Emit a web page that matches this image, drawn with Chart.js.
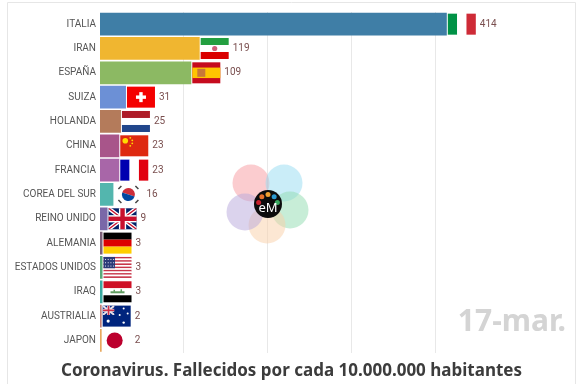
<!DOCTYPE html>
<html>
<head>
<meta charset="utf-8">
<style>
  html, body { margin: 0; padding: 0; background: #fff; overflow: hidden; }
  canvas { display: block; }
</style>
<script src="https://cdn.jsdelivr.net/npm/chart.js@4"></script>
</head>
<body>
<canvas id="chart" width="580" height="384"></canvas>
<script>
const categories = ['ITALIA', 'IRAN', 'ESPAÑA', 'SUIZA', 'HOLANDA', 'CHINA', 'FRANCIA', 'COREA DEL SUR',
  'REINO UNIDO', 'ALEMANIA', 'ESTADOS UNIDOS', 'IRAQ', 'AUSTRIALIA', 'JAPON'];
const values = [414, 119, 109, 31, 25, 23, 23, 16, 9, 3, 3, 3, 2, 2];
const barColors = ['#3f7ea6', '#f0b630', '#8cb963', '#6c90d6', '#b47b5b', '#a8558a', '#a866a8', '#53b6ae',
  '#7a68a8', '#7d6079', '#5aa97a', '#3aa9a0', '#c28078', '#e8a95f'];
const gridTicks = [100, 200, 300, 400];
const dateLabel = '17-mar.';
const titleText = 'Coronavirus. Fallecidos por cada 10.000.000 habitantes';

// flag painters, each one draws in a box of w x h from x,y
function stripesH(c, x, y, w, h, cols) {
  cols.forEach((col, i) => { c.fillStyle = col; c.fillRect(x, y + i * h / cols.length, w, h / cols.length); });
}
function stripesV(c, x, y, w, h, cols) {
  cols.forEach((col, i) => { c.fillStyle = col; c.fillRect(x + i * w / cols.length, y, w / cols.length, h); });
}
const flags = {
  ITALIA(c, x, y, w, h) { stripesV(c, x, y, w, h, ['#009246', '#fff', '#ce2b37']); },
  IRAN(c, x, y, w, h) {
    stripesH(c, x, y, w, h, ['#239f40', '#fff', '#da0000']);
    c.fillStyle = '#d0607a';
    c.beginPath(); c.arc(x + w / 2, y + h / 2, 2.6, 0, Math.PI * 2); c.fill();
  },
  'ESPAÑA'(c, x, y, w, h) {
    c.fillStyle = '#c60b1e'; c.fillRect(x, y, w, h);
    c.fillStyle = '#ffc400'; c.fillRect(x, y + h / 4, w, h / 2);
    c.fillStyle = '#c87838'; c.fillRect(x + 5, y + h / 2 - 4, 8, 8);
  },
  SUIZA(c, x, y, w, h) {
    c.fillStyle = '#f40000'; c.fillRect(x, y, w, h);
    c.fillStyle = '#fff';
    c.fillRect(x + w / 2 - 5, y + h / 2 - 1.7, 10, 3.4);
    c.fillRect(x + w / 2 - 1.7, y + h / 2 - 5, 3.4, 10);
  },
  HOLANDA(c, x, y, w, h) { stripesH(c, x, y, w, h, ['#ae1c28', '#fff', '#21468b']); },
  CHINA(c, x, y, w, h) {
    c.fillStyle = '#de2910'; c.fillRect(x, y, w, h);
    c.fillStyle = '#ffde00';
    c.beginPath(); c.arc(x + 5, y + 5.5, 2.8, 0, Math.PI * 2); c.fill();
    [[10, 2.5], [12, 5], [12, 8], [10, 10.5]].forEach(p => {
      c.beginPath(); c.arc(x + p[0], y + p[1], 0.9, 0, Math.PI * 2); c.fill();
    });
  },
  FRANCIA(c, x, y, w, h) { stripesV(c, x, y, w, h, ['#0000b0', '#fff', '#e1000f']); },
  'COREA DEL SUR'(c, x, y, w, h) {
    c.fillStyle = '#fff'; c.fillRect(x, y, w, h);
    const cx = x + w / 2, cy = y + h / 2;
    c.fillStyle = '#cd2e3a';
    c.beginPath(); c.arc(cx, cy, 6.5, Math.PI * 1.1, Math.PI * 2.1); c.fill();
    c.fillStyle = '#0047a0';
    c.beginPath(); c.arc(cx, cy, 6.5, Math.PI * 0.1, Math.PI * 1.1); c.fill();
    c.strokeStyle = '#444'; c.lineWidth = 1.5;
    [[-10, -5.5, -7, -8.5], [7, -8.5, 10, -5.5], [-10, 5.5, -7, 8.5], [7, 8.5, 10, 5.5]].forEach(p => {
      c.beginPath(); c.moveTo(cx + p[0], cy + p[1]); c.lineTo(cx + p[2], cy + p[3]); c.stroke();
    });
  },
  'REINO UNIDO'(c, x, y, w, h) {
    c.fillStyle = '#012169'; c.fillRect(x, y, w, h);
    c.save(); c.beginPath(); c.rect(x, y, w, h); c.clip();
    c.strokeStyle = '#fff'; c.lineWidth = 4;
    c.beginPath(); c.moveTo(x, y); c.lineTo(x + w, y + h); c.moveTo(x + w, y); c.lineTo(x, y + h); c.stroke();
    c.strokeStyle = '#c8102e'; c.lineWidth = 1.4;
    c.beginPath(); c.moveTo(x, y); c.lineTo(x + w, y + h); c.moveTo(x + w, y); c.lineTo(x, y + h); c.stroke();
    c.restore();
    c.fillStyle = '#fff';
    c.fillRect(x, y + h / 2 - 3.6, w, 7.2); c.fillRect(x + w / 2 - 3.6, y, 7.2, h);
    c.fillStyle = '#c8102e';
    c.fillRect(x, y + h / 2 - 2.2, w, 4.4); c.fillRect(x + w / 2 - 2.2, y, 4.4, h);
  },
  ALEMANIA(c, x, y, w, h) { stripesH(c, x, y, w, h, ['#000', '#dd0000', '#ffce00']); },
  'ESTADOS UNIDOS'(c, x, y, w, h) {
    for (let i = 0; i < 13; i++) {
      c.fillStyle = i % 2 ? '#fff' : '#c8364a';
      c.fillRect(x, y + i * h / 13, w, h / 13);
    }
    c.fillStyle = '#2c3a78'; c.fillRect(x, y, 11.5, h * 7 / 13);
    c.fillStyle = '#e8e8f0';
    for (let i = 0; i < 4; i++) for (let j = 0; j < 3; j++) {
      c.fillRect(x + 1.5 + i * 2.7, y + 2 + j * 3.3, 1, 1);
    }
  },
  IRAQ(c, x, y, w, h) {
    stripesH(c, x, y, w, h, ['#ce1126', '#fff', '#000']);
    c.fillStyle = '#5f9c60';
    c.fillRect(x + 7, y + h / 2 - 0.5, 14, 2);
    c.fillRect(x + 10, y + h / 2 - 2, 1.5, 2);
    c.fillRect(x + 17, y + h / 2 - 2.5, 1.5, 3);
  },
  AUSTRIALIA(c, x, y, w, h) {
    c.fillStyle = '#00247d'; c.fillRect(x, y, w, h);
    const fw = w * 0.42, fh = h * 0.45;
    c.save(); c.beginPath(); c.rect(x, y, fw, fh); c.clip();
    c.strokeStyle = '#e8e0e8'; c.lineWidth = 2;
    c.beginPath(); c.moveTo(x, y); c.lineTo(x + fw, y + fh); c.moveTo(x + fw, y); c.lineTo(x, y + fh); c.stroke();
    c.fillStyle = '#e8e0e8';
    c.fillRect(x, y + fh / 2 - 1.5, fw, 3); c.fillRect(x + fw / 2 - 1.5, y, 3, fh);
    c.fillStyle = '#cf3048';
    c.fillRect(x, y + fh / 2 - 0.8, fw, 1.6); c.fillRect(x + fw / 2 - 0.8, y, 1.6, fh);
    c.restore();
    c.fillStyle = '#fff';
    [[5.5, 15.5, 1.6], [21, 3, 1], [25, 8, 1], [17, 9.5, 1], [21, 17, 1.2]].forEach(p => {
      c.beginPath(); c.arc(x + p[0], y + p[1], p[2], 0, Math.PI * 2); c.fill();
    });
  },
  JAPON(c, x, y, w, h) {
    c.fillStyle = '#bc002d';
    c.beginPath(); c.arc(x + w / 2 - 2, y + h / 2, 8, 0, Math.PI * 2); c.fill();
  }
};

// white frame line round the picture, open at the bottom
const framePlugin = {
  id: 'frame',
  beforeDraw(chart) {
    const c = chart.ctx;
    c.save();
    c.fillStyle = '#fff';
    c.fillRect(0, 0, chart.width, chart.height);
    c.strokeStyle = '#e6e6e6';
    c.lineWidth = 1;
    c.beginPath();
    c.moveTo(7.5, 384); c.lineTo(7.5, 2.5); c.lineTo(575.5, 2.5); c.lineTo(575.5, 384);
    c.stroke();
    c.restore();
  }
};

// flags, value labels, date and logo on top of the bars
const overlayPlugin = {
  id: 'overlay',
  afterDatasetsDraw(chart) {
    const c = chart.ctx;
    const xs = chart.scales.x, ys = chart.scales.y;
    c.save();
    categories.forEach((name, i) => {
      const x = xs.getPixelForValue(values[i]) + 1;
      const cy = ys.getPixelForValue(i);
      flags[name](c, x, cy - 10.5, 28, 21);
      c.fillStyle = '#7a4f4f';
      c.font = '10px Roboto';
      c.textAlign = 'left';
      c.textBaseline = 'middle';
      c.fillText(values[i], x + 32, cy);
    });

    c.fillStyle = '#d4d4d4';
    c.font = 'bold 30px "Noto Sans"';
    c.textAlign = 'right';
    c.textBaseline = 'middle';
    c.fillText(dateLabel, 566, 322);

    // logo
    [[251, 183, '#f79aa0'], [284, 183, '#96dcf2'], [290, 210, '#90dcb0'], [267, 225, '#f9cfa8'], [245, 212, '#b8a8dc']].forEach(p => {
      c.globalAlpha = 0.5;
      c.fillStyle = p[2];
      c.beginPath(); c.arc(p[0], p[1], 18.5, 0, Math.PI * 2); c.fill();
    });
    c.globalAlpha = 1;
    c.fillStyle = '#0c0c0c';
    c.beginPath(); c.arc(268, 204, 14, 0, Math.PI * 2); c.fill();
    ['#c8202c', '#e8732c', '#f0a030', '#2c9ad0', '#3aa860'].forEach((col, i) => {
      const a = Math.PI * (1.05 + i * 0.225);
      c.fillStyle = col;
      c.beginPath(); c.arc(268 + 9.5 * Math.cos(a), 204 + 9.5 * Math.sin(a), 2.5, 0, Math.PI * 2); c.fill();
    });
    c.fillStyle = '#fff';
    c.font = '13px "Noto Sans"';
    c.textAlign = 'center';
    c.fillText('eM', 268, 208);
    c.restore();
  }
};

new Chart(document.getElementById('chart'), {
  type: 'bar',
  data: {
    labels: categories,
    datasets: [{
      data: values,
      backgroundColor: barColors,
      borderWidth: 0,
      categoryPercentage: 1,
      barPercentage: 0.935
    }]
  },
  options: {
    indexAxis: 'y',
    responsive: false,
    animation: false,
    layout: { padding: { top: 12, right: 0, left: 3, bottom: 0 } },
    plugins: {
      legend: { display: false },
      tooltip: { enabled: false },
      title: {
        display: true,
        position: 'bottom',
        text: titleText,
        color: '#3c3c3c',
        font: { family: '"Noto Sans"', size: 17, weight: 'bold' },
        padding: { top: 8, bottom: 3 }
      }
    },
    scales: {
      x: {
        min: 0,
        max: 573,
        afterBuildTicks(axis) { axis.ticks = gridTicks.map(v => ({ value: v })); },
        grid: { color: '#e8e8e8', lineWidth: 1, drawTicks: false },
        border: { display: false },
        ticks: { display: false }
      },
      y: {
        afterFit(axis) { axis.width = 97; },
        grid: { display: false, drawTicks: false },
        border: { display: false },
        ticks: { color: '#555555', font: { family: 'Roboto', size: 10 }, padding: 4, autoSkip: false }
      }
    }
  },
  plugins: [framePlugin, overlayPlugin]
});
</script>
</body>
</html>
